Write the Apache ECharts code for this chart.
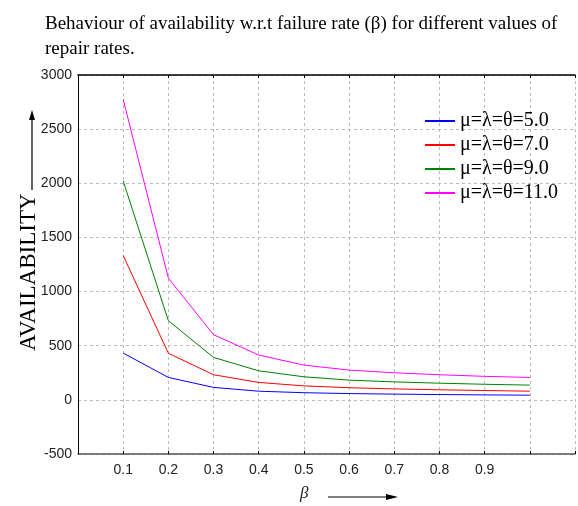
<!DOCTYPE html>
<html>
<head>
<meta charset="utf-8">
<script src="https://cdn.jsdelivr.net/npm/echarts@6/dist/echarts.min.js"></script>
<style>
  html, body { margin: 0; padding: 0; background: #fff; }
  #chart { width: 578px; height: 506px; }
</style>
</head>
<body>
<div id="chart"></div>
<script>
const betas = [0.1, 0.2, 0.3, 0.4, 0.5, 0.6, 0.7, 0.8, 0.9, 1.0];
const seriesNames = ["μ=λ=θ=5.0", "μ=λ=θ=7.0", "μ=λ=θ=9.0", "μ=λ=θ=11.0"];
const avail5 = [432, 207, 115, 80, 66, 58, 53, 49, 46, 43];
const avail7 = [1333, 430, 232, 161, 129, 112, 101, 93, 86, 80];
const avail9 = [2022, 731, 392, 268, 213, 182, 166, 154, 144, 136];
const avail11 = [2775, 1124, 602, 414, 321, 275, 250, 232, 217, 207];
const xTickLabels = ["0.1", "0.2", "0.3", "0.4", "0.5", "0.6", "0.7", "0.8", "0.9"];
const colors = ["#0000ff", "#ff0000", "#008000", "#ff00ff"];

const chart = echarts.init(document.getElementById("chart"));

const allValues = [avail5, avail7, avail9, avail11];

const xBase = {
  type: "value",
  min: 0,
  max: 1.1,
  interval: 0.1
};

chart.setOption({
  animation: false,
  title: {
    text: "Behaviour of availability w.r.t failure rate (β) for different values of\nrepair rates.",
    left: 40,
    top: 7,
    textStyle: {
      fontFamily: "Liberation Serif",
      fontWeight: "normal",
      fontSize: 19,
      lineHeight: 25,
      color: "#000"
    }
  },
  legend: {
    orient: "vertical",
    left: 420,
    top: 106,
    itemWidth: 30,
    itemHeight: 2,
    itemGap: 4,
    icon: "rect",
    data: seriesNames,
    textStyle: { fontFamily: "Liberation Serif", fontSize: 20, lineHeight: 20, color: "#000" }
  },
  grid: { left: 78, right: 0, top: 75, bottom: 52 },
  xAxis: [
    Object.assign({}, xBase, {
      position: "bottom",
      axisLine: { onZero: false, lineStyle: { color: "#555", width: 1.5 } },
      axisTick: { show: true, inside: true, length: 3, lineStyle: { color: "#000" } },
      axisLabel: {
        fontFamily: "Liberation Sans",
        fontSize: 14,
        color: "#222",
        margin: 9,
        formatter: (v) => {
          const s = v.toFixed(1);
          return xTickLabels.includes(s) ? s : "";
        }
      },
      splitLine: { show: true, lineStyle: { color: "#bbb", type: [3, 3] } }
    }),
    Object.assign({}, xBase, {
      position: "top",
      axisLine: { onZero: false, lineStyle: { color: "#000", width: 1.5 } },
      axisTick: { show: true, inside: true, length: 3, lineStyle: { color: "#000" } },
      axisLabel: { show: false },
      splitLine: { show: false }
    })
  ],
  yAxis: {
    type: "value",
    min: -500,
    max: 3000,
    interval: 500,
    axisLine: { show: true, lineStyle: { color: "#000" } },
    axisTick: { show: false },
    axisLabel: {
      fontFamily: "Liberation Sans",
      fontSize: 14,
      color: "#222",
      margin: 6,
      formatter: (v) => String(v)
    },
    splitLine: { show: true, lineStyle: { color: "#bbb", type: [3, 3] } }
  },
  graphic: [
    {
      type: "text",
      rotation: Math.PI / 2,
      x: 17,
      y: 351,
      style: {
        text: "AVAILABILITY",
        font: "23px 'Liberation Serif'",
        fill: "#000",
        letterSpacing: 1
      }
    },
    {
      type: "line",
      shape: { x1: 32, y1: 190, x2: 32, y2: 116 },
      style: { stroke: "#000", lineWidth: 1.2 }
    },
    {
      type: "polygon",
      shape: { points: [[32, 110], [29, 120], [35, 120]] },
      style: { fill: "#000" }
    },
    {
      type: "text",
      x: 300,
      y: 485,
      style: {
        text: "β",
        font: "italic 17px 'Liberation Serif'",
        fill: "#222"
      }
    },
    {
      type: "line",
      shape: { x1: 328, y1: 497, x2: 390, y2: 497 },
      style: { stroke: "#000", lineWidth: 1.2 }
    },
    {
      type: "polygon",
      shape: { points: [[398, 497], [386, 494], [386, 500]] },
      style: { fill: "#000" }
    }
  ],
  series: seriesNames.map((name, i) => ({
    name,
    type: "line",
    xAxisIndex: 0,
    data: betas.map((b, j) => [b, allValues[i][j]]),
    symbol: "none",
    lineStyle: { width: 1, color: colors[i] },
    itemStyle: { color: colors[i] }
  }))
});
</script>
</body>
</html>
